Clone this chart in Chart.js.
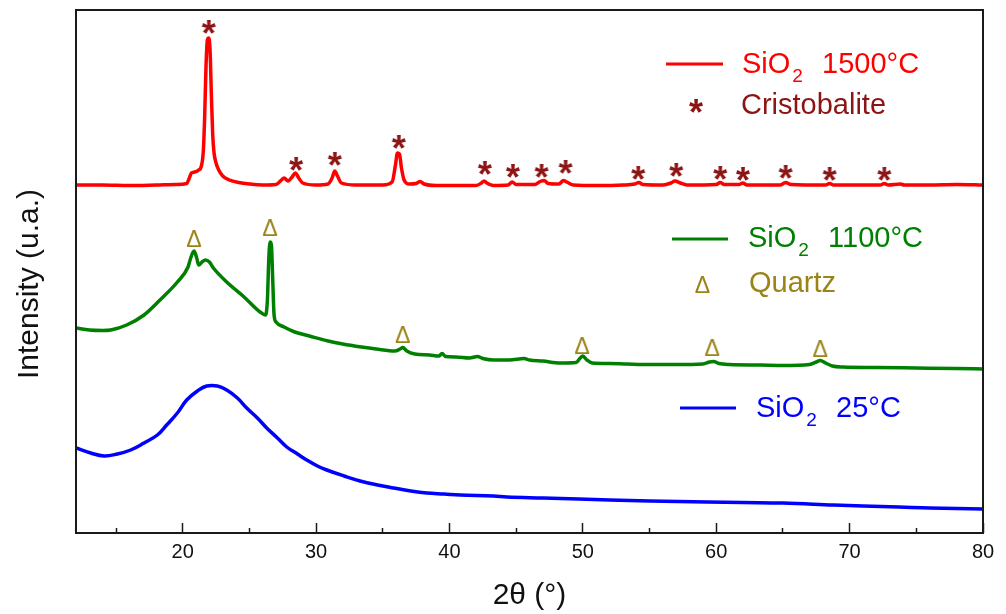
<!DOCTYPE html>
<html>
<head>
<meta charset="utf-8">
<script src="https://cdn.jsdelivr.net/npm/chart.js"></script>
<style>
  body { margin: 0; background: #fff; }
  #wrap { width: 1006px; height: 614px; position: relative; }
</style>
</head>
<body>
<div id="wrap"><canvas id="canvas"></canvas></div>
<script>
// 2theta (deg) and intensity (a.u., curves offset for display)
var red2t = [12, 14, 16, 18, 19.5, 20.3, 20.5, 20.65, 20.9, 21.2, 21.4, 21.55, 21.65, 21.75, 21.85, 21.95, 22.05, 22.15, 22.25, 22.35, 22.5, 22.7, 23, 23.5, 24.2, 25, 26, 27, 27.4, 27.6, 27.9, 28.2, 28.45, 28.7, 29, 30, 30.9, 31.2, 31.4, 31.6, 31.9, 33, 35, 35.7, 35.95, 36.1, 36.25, 36.4, 36.6, 37, 37.5, 37.8, 38.1, 39, 42, 42.4, 42.6, 42.8, 43.3, 44.4, 44.7, 45, 46.4, 46.8, 47.1, 47.4, 48.2, 48.55, 48.8, 49.3, 51, 53, 53.9, 54.2, 54.5, 56, 56.6, 56.9, 57.3, 57.8, 60, 60.3, 60.6, 61.7, 62, 62.3, 64.8, 65.2, 65.6, 68.2, 68.5, 68.8, 70, 72.3, 72.6, 72.9, 73.8, 74.1, 76, 78, 80];
var redInt = [348, 348, 347.5, 348, 348.5, 349.5, 355, 360, 361, 363, 367, 383, 418, 468, 493, 495, 483, 438, 398, 380, 370, 363, 357, 353, 350.5, 349, 348, 348.5, 353, 355, 352, 356, 360, 355, 350, 348, 349, 355, 362, 357, 350, 348, 348, 351, 368, 380, 379, 365, 353, 349, 349.5, 351.5, 349, 347.5, 347.5, 350, 352, 350, 347.5, 348, 351, 348.5, 348.5, 351.5, 352.5, 349.5, 349, 352.5, 351, 348, 347.5, 348, 349, 350.5, 348.5, 348, 350, 352, 350, 348, 348.5, 350.5, 348.5, 348.5, 350, 348, 348, 350.5, 348.5, 348, 349.5, 348, 348, 348, 349.5, 348, 349, 348, 348, 348.5, 348];

var green2t = [12, 13, 14, 14.6, 15.8, 17.1, 18.3, 19.6, 20.4, 20.6, 20.85, 21.05, 21.2, 21.45, 21.7, 22, 22.3, 23.3, 24.6, 25.8, 26.2, 26.35, 26.45, 26.55, 26.65, 26.75, 26.85, 27, 27.6, 28.4, 29.5, 30.9, 32, 33.4, 34.5, 35.9, 36.3, 36.5, 36.8, 37.4, 38.5, 39.2, 39.45, 39.7, 40.5, 41.5, 42.1, 42.5, 43.3, 44.5, 45.6, 46, 47, 48.3, 49.5, 49.8, 50, 50.3, 50.7, 52, 53.3, 55, 57, 59, 59.5, 59.8, 60.2, 61, 63.3, 65, 67, 67.5, 67.8, 68.2, 68.7, 69.5, 72, 75, 78, 80];
var greenInt = [205, 203, 202.5, 203, 208, 218, 233, 251, 266, 275, 282, 275, 268, 271, 273, 271, 265, 251, 236, 221, 218, 233, 273, 291, 288, 253, 218, 211, 206, 201, 197, 192, 189, 186, 184, 182, 184, 185.5, 182, 179, 178, 177, 179.5, 176.5, 176, 175, 176.5, 174.5, 173, 173, 174.5, 173, 172, 170, 170.5, 175, 177, 173, 170, 169.5, 169, 168.5, 168.5, 169, 171, 171.5, 169.5, 168.5, 168, 167.5, 168.5, 171, 172.5, 170, 167, 166, 165.5, 165, 164.5, 164];

var blue2t = [12, 13.1, 14.1, 15.1, 16.1, 17.1, 18.1, 18.8, 19.6, 20.3, 21.1, 21.8, 22.6, 23.3, 24.1, 24.8, 25.6, 26.3, 27.1, 27.8, 28.6, 29.3, 30.1, 30.8, 32.1, 33.3, 34.6, 35.8, 37.1, 38.3, 39.6, 40.8, 43.3, 44.3, 47, 49.7, 52, 55, 59.3, 62, 65, 68.8, 71, 73.7, 76, 80];
var blueInt = [85, 80, 77, 79, 83, 90, 98, 108, 120, 133, 142, 147, 147, 143, 135, 125, 115, 105, 95, 86, 79, 73, 67, 63, 57, 52, 48, 45, 42, 40, 39, 38, 37, 36, 35, 34, 33, 32, 31, 30.5, 30, 28, 27, 26, 25, 24];

// peak markers
var cristo2t = [21.95, 28.5, 31.4, 36.2, 42.65, 44.75, 46.9, 48.7, 54.15, 57.0, 60.3, 62.0, 65.2, 68.5, 72.6];
var cristoY = [506, 369, 374, 391, 365, 362, 362, 366, 360, 363, 360, 359, 361, 359, 359];
var quartz2t = [20.85, 26.55, 36.5, 49.95, 59.7, 67.8];
var quartzY = [295, 306, 199, 188, 186, 185];

var majorTicks = [20, 30, 40, 50, 60, 70, 80];
var minorTicks = [15, 25, 35, 45, 55, 65, 75];

var FONT = "'Liberation Sans', Arial, sans-serif";
var MAROON = '#8c1414';
var OLIVE = '#9a8418';

function pts(xs, ys) {
  return xs.map(function(x, i) { return {x: x, y: ys[i]}; });
}

function glyph(ch, font, color, size) {
  var c = document.createElement('canvas');
  c.width = size; c.height = size;
  var g = c.getContext('2d');
  g.font = font;
  g.fillStyle = color;
  g.textAlign = 'center';
  g.textBaseline = 'alphabetic';
  var m = g.measureText(ch);
  g.fillText(ch, size / 2, size / 2 + (m.actualBoundingBoxAscent - m.actualBoundingBoxDescent) / 2);
  return c;
}

var STAR_FONT = 'bold 36px ' + FONT;
var DELTA_FONT = '23px ' + FONT;
var starImg = glyph('*', STAR_FONT, MAROON, 26);
var deltaImg = glyph('\u0394', DELTA_FONT, OLIVE, 26);

// frame around the plot area
var framePlugin = {
  id: 'frame',
  afterDraw: function(chart) {
    var a = chart.chartArea, ctx = chart.ctx;
    ctx.save();
    ctx.strokeStyle = '#1a1a1a';
    ctx.lineWidth = 2;
    ctx.strokeRect(a.left, a.top, a.right - a.left, a.bottom - a.top);
    ctx.restore();
  }
};

// legend with subscripts and peak symbols
var legendPlugin = {
  id: 'xrdLegend',
  afterDraw: function(chart) {
    var ctx = chart.ctx;
    ctx.save();
    function line(x1, x2, y, color) {
      ctx.strokeStyle = color; ctx.lineWidth = 3;
      ctx.beginPath(); ctx.moveTo(x1, y); ctx.lineTo(x2, y); ctx.stroke();
    }
    function sio2(x, y, rest, color) {
      ctx.fillStyle = color;
      ctx.textBaseline = 'alphabetic';
      ctx.textAlign = 'left';
      ctx.font = '29px ' + FONT;
      ctx.fillText('SiO', x, y);
      x += ctx.measureText('SiO').width + 2;
      ctx.font = '19px ' + FONT;
      ctx.fillText('2', x, y + 9);
      x += ctx.measureText('2').width + 3;
      ctx.font = '29px ' + FONT;
      ctx.fillText('  ' + rest, x, y);
    }
    function label(x, y, txt, color) {
      ctx.fillStyle = color;
      ctx.textBaseline = 'alphabetic';
      ctx.textAlign = 'left';
      ctx.font = '29px ' + FONT;
      ctx.fillText(txt, x, y);
    }
    function symbol(ch, font, x, y, color) {
      ctx.fillStyle = color;
      ctx.font = font;
      ctx.textAlign = 'center';
      ctx.textBaseline = 'alphabetic';
      var m = ctx.measureText(ch);
      ctx.fillText(ch, x, y + (m.actualBoundingBoxAscent - m.actualBoundingBoxDescent) / 2);
    }
    line(666, 723, 64, '#ff0000');
    sio2(742, 73, '1500\u00b0C', '#ff0000');
    symbol('*', STAR_FONT, 696, 106, MAROON);
    label(741, 114, 'Cristobalite', MAROON);

    line(672, 728, 239, '#008000');
    sio2(748, 247, '1100\u00b0C', '#008000');
    symbol('\u0394', DELTA_FONT, 702.5, 284, OLIVE);
    label(749, 292, 'Quartz', OLIVE);

    line(680, 736, 408, '#0000ff');
    sio2(756, 417, '25\u00b0C', '#0000ff');
    ctx.restore();
  }
};

function curve(label, xs, ys, color, smooth) {
  var ds = {
    label: label,
    data: pts(xs, ys),
    showLine: true,
    borderColor: color,
    backgroundColor: color,
    borderWidth: 3.5,
    pointRadius: 0,
    order: 2
  };
  if (smooth) {
    ds.tension = 0.4;
  } else {
    ds.cubicInterpolationMode = 'monotone';
  }
  return ds;
}

window.onload = function() {
  var config = {
    type: 'scatter',
    data: {
      datasets: [
        {
          label: 'Cristobalite',
          data: pts(cristo2t, cristoY),
          pointStyle: starImg,
          pointRadius: 6,
          order: 0
        },
        {
          label: 'Quartz',
          data: pts(quartz2t, quartzY),
          pointStyle: deltaImg,
          pointRadius: 6,
          order: 0
        },
        curve('SiO2 1500\u00b0C', red2t, redInt, '#ff0000', false),
        curve('SiO2 1100\u00b0C', green2t, greenInt, '#008000', false),
        curve('SiO2 25\u00b0C', blue2t, blueInt, '#0000ff', true)
      ]
    },
    options: {
      responsive: true,
      maintainAspectRatio: false,
      animation: false,
      layout: { padding: { top: 10, right: 23, left: 0, bottom: 0 } },
      plugins: {
        legend: { display: false },
        tooltip: { enabled: false }
      },
      scales: {
        x: {
          type: 'linear',
          min: 12,
          max: 80,
          afterFit: function(s) {
            s.height = 81;
            s.paddingLeft = 0;
            s.paddingRight = 0;
          },
          afterBuildTicks: function(s) {
            s.ticks = majorTicks.concat(minorTicks).sort(function(a, b) { return a - b; })
              .map(function(v) { return {value: v}; });
          },
          border: { display: false },
          grid: {
            display: true,
            drawOnChartArea: false,
            drawTicks: true,
            tickLength: -10,
            tickWidth: 1.5,
            tickColor: '#1a1a1a',
            tickBorderDash: function(c) {
              return (c.tick && minorTicks.indexOf(c.tick.value) >= 0) ? [5, 50] : [];
            }
          },
          ticks: {
            autoSkip: false,
            maxRotation: 0,
            padding: 17,
            color: '#111',
            font: { family: FONT, size: 20 },
            callback: function(v) { return majorTicks.indexOf(v) >= 0 ? String(v) : ''; }
          },
          title: {
            display: true,
            text: '2\u03b8 (\u00b0)',
            color: '#111',
            font: { family: FONT, size: 30 },
            padding: { top: 0, bottom: 0 }
          }
        },
        y: {
          min: 0,
          max: 523,
          afterFit: function(s) { s.width = 76; },
          border: { display: false },
          grid: { display: false },
          ticks: { display: false },
          title: {
            display: true,
            text: 'Intensity (u.a.)   ',
            color: '#111',
            font: { family: FONT, size: 30 },
            padding: { top: 12, bottom: 0 }
          }
        }
      }
    },
    plugins: [framePlugin, legendPlugin]
  };
  window.myChart = new Chart(document.getElementById('canvas'), config);
};
</script>
</body>
</html>
